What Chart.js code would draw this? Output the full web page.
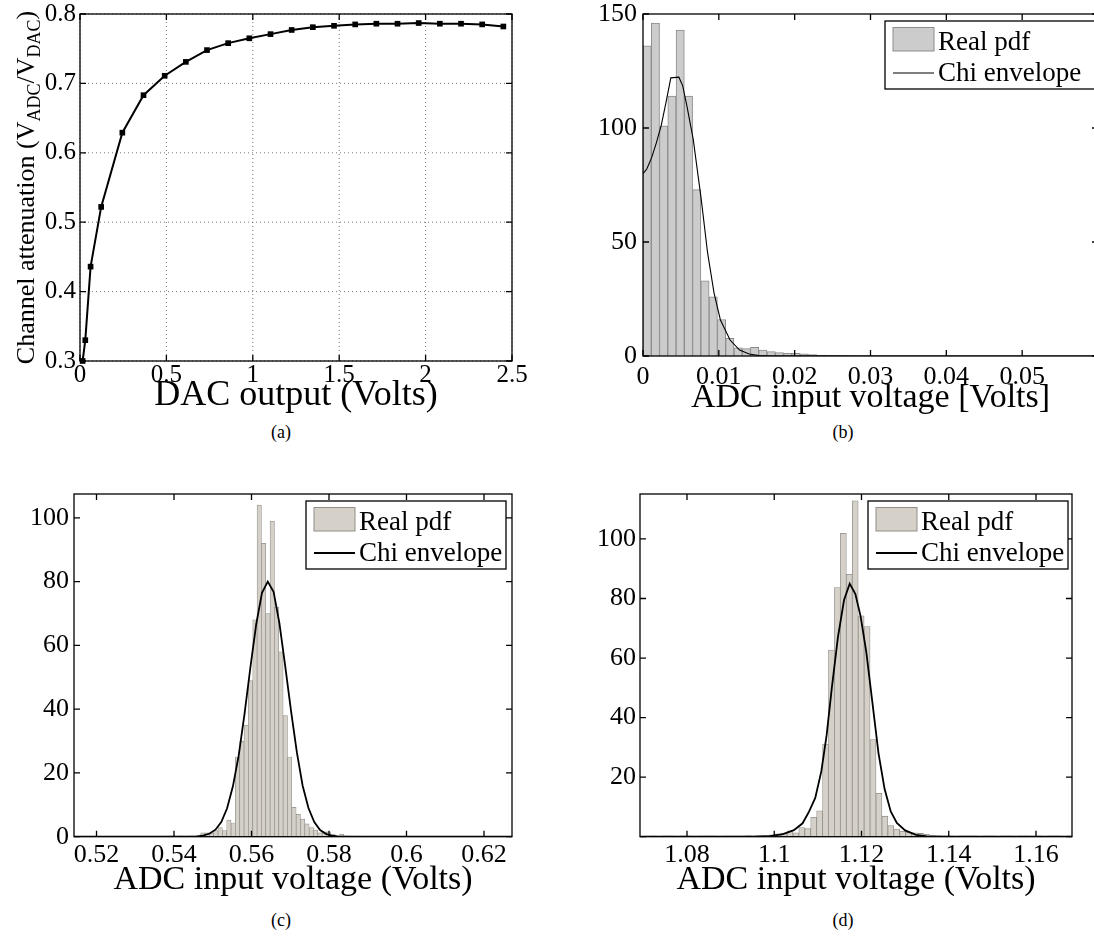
<!DOCTYPE html>
<html>
<head>
<meta charset="utf-8">
<script src="https://cdn.jsdelivr.net/npm/chart.js@4.4.1/dist/chart.umd.min.js"></script>
<style>
html,body{margin:0;padding:0;background:#fff;width:1094px;height:938px;overflow:hidden;position:relative}
canvas{position:absolute}
.cap{position:absolute;font-family:"Liberation Serif",serif;font-size:18px;transform:translate(-50%,-50%);white-space:nowrap}
</style>
</head>
<body>
<canvas id="chartA" width="545" height="414" style="left:0;top:0"></canvas>
<canvas id="chartB" width="560" height="415" style="left:547px;top:0"></canvas>
<canvas id="chartC" width="545" height="437" style="left:0;top:460px"></canvas>
<canvas id="chartD" width="547" height="437" style="left:547px;top:460px"></canvas>
<div class="cap" style="left:281px;top:432px">(a)</div>
<div class="cap" style="left:843px;top:432px">(b)</div>
<div class="cap" style="left:281px;top:920px">(c)</div>
<div class="cap" style="left:843px;top:920px">(d)</div>
<script>
// (a) channel attenuation against DAC output
const dacVolts = [0.0153, 0.0306, 0.0613, 0.1225, 0.245, 0.3675, 0.49, 0.6125, 0.735, 0.8575, 0.98, 1.1025,
  1.225, 1.3475, 1.47, 1.5925, 1.715, 1.8375, 1.96, 2.0825, 2.205, 2.3275, 2.45];
const attenuation = [0.300, 0.330, 0.436, 0.522, 0.629, 0.683, 0.711, 0.731, 0.748, 0.758, 0.765, 0.771,
  0.777, 0.781, 0.783, 0.785, 0.786, 0.786, 0.787, 0.786, 0.786, 0.785, 0.782];
const aTicksX = [0, 0.5, 1, 1.5, 2, 2.5];
const aTicksY = [0.3, 0.4, 0.5, 0.6, 0.7, 0.8];

// (b) histogram near 0 V
const bFirstBin = 0.000545, bBinWidth = 0.00109;
const bPdf = [136, 146, 101, 114, 143, 114, 73, 33, 26, 16, 7.8, 3.6, 3.2, 3.8, 2.6, 1.9, 1.5, 1.2, 1.2, 1.0,
  0.6, 0.4, 0.3, 0.2, 0.1];
const bChiX = [0, 0.0005, 0.00114, 0.00177, 0.0024, 0.00304, 0.00367, 0.00473, 0.00523, 0.00578, 0.00662,
  0.00768, 0.00852, 0.00937, 0.0102, 0.01148, 0.01274, 0.014, 0.01527, 0.0165, 0.06];
const bChiY = [80, 82, 87, 93.6, 101, 111.3, 122, 122.3, 118.6, 109.8, 95.1, 68.7, 45.2, 27.6, 15.9, 7, 2.6,
  0.9, 0.15, 0, 0];
const bTicksX = [0, 0.01, 0.02, 0.03, 0.04, 0.05];
const bTicksY = [0, 50, 100, 150];

// (c) histogram around 0.56 V
const cFirstBin = 0.53736, cBinWidth = 0.00112;
const cPdf = [0.2, 0.2, 0.3, 0.2, 0.3, 0.2, 0.3, 0.3, 0.5, 1.2, 1.2, 1.2, 1.9, 2.9, 1.9, 5.2, 4.3,
  25, 30, 35, 49, 68, 104, 92, 70, 99, 72, 58, 38, 25,
  9.2, 7, 5.5, 4, 2.9, 2.1, 1.2, 1.5, 1.5, 0.8, 0.3, 0.8, 0.3, 0.2, 0.2, 0.1];
const cChiX = [0.5142, 0.540, 0.5462, 0.5477, 0.5492, 0.5507, 0.5522, 0.5537, 0.5552, 0.5567, 0.5582,
  0.5597, 0.5612, 0.5627, 0.5642, 0.5657, 0.5672, 0.5687, 0.5702, 0.5717, 0.5732, 0.5747, 0.5762,
  0.5777, 0.5792, 0.5807, 0.5822, 0.585, 0.6273];
const cChiY = [0, 0, 0.1, 0.4, 1.0, 2.2, 4.6, 8.9, 15.8, 25.5, 38.5, 53, 66.5, 76.5, 80, 76.8, 67, 53.5,
  39.5, 26.5, 16, 9, 4.6, 2.1, 0.9, 0.35, 0.1, 0, 0];
const cTicksX = [0.52, 0.54, 0.56, 0.58, 0.6, 0.62];
const cTicksY = [0, 20, 40, 60, 80, 100];

// (d) histogram around 1.12 V
const dFirstBin = 1.07096, dBinWidth = 0.00136;
const dPdf = [0.2, 0.3, 0.2, 0.3, 0.3, 0.2, 0.3, 0.3, 0.2, 0.3, 0.3, 0.3, 0.2, 0.3, 0.3, 0.3, 0.3, 0.4, 0.3,
  0.4, 0.5, 0.6, 1.0, 1.2, 2.0, 1.3, 3.1, 2.7, 6.5, 8.7, 31.1, 62.7, 83.7, 101.9, 88.1, 112.8, 74.2, 70.6,
  32.6, 14.6, 6.9, 3.7, 2.6, 1.8, 1.5, 1.3, 1.1, 0.8, 0.5, 0.4,
  0.3, 0.3, 0.2, 0.3, 0.3, 0.3, 0.2, 0.3, 0.3, 0.2, 0.3, 0.3, 0.2, 0.3, 0.3, 0.2, 0.3, 0.2, 0.3, 0.3, 0.2, 0.3];
const dChiX = [1.0692, 1.095, 1.099, 1.102, 1.1045, 1.1065, 1.108, 1.1094, 1.1108, 1.112, 1.1132, 1.1146,
  1.116, 1.1173, 1.1186, 1.1198, 1.1211, 1.1225, 1.1239, 1.1253, 1.1267, 1.1281, 1.13, 1.1325, 1.135,
  1.138, 1.1683];
const dChiY = [0, 0, 0.2, 0.9, 2.2, 4.5, 8.5, 13, 22, 34, 50, 67, 79.5, 85, 81.5, 74, 62, 45, 28, 16, 8.5,
  4.6, 2.1, 0.6, 0.1, 0, 0];
const dTicksX = [1.08, 1.1, 1.12, 1.14, 1.16];
const dTicksY = [0, 20, 40, 60, 80, 100];

const FONT = '"Liberation Serif", "Times New Roman", serif';

function fmt(v) {
  return String(+v.toFixed(4));
}

// axes box with ticks pointing inwards on all four sides
const frame = {
  id: 'frame',
  afterDatasetsDraw(chart) {
    const {ctx, chartArea: a, scales: {x, y}} = chart;
    const len = 6;
    ctx.save();
    ctx.strokeStyle = '#000';
    ctx.lineWidth = 1.3;
    ctx.beginPath();
    x.ticks.forEach(t => {
      const p = x.getPixelForValue(t.value);
      ctx.moveTo(p, a.bottom); ctx.lineTo(p, a.bottom - len);
      ctx.moveTo(p, a.top); ctx.lineTo(p, a.top + len);
    });
    y.ticks.forEach(t => {
      const p = y.getPixelForValue(t.value);
      ctx.moveTo(a.left, p); ctx.lineTo(a.left + len, p);
      ctx.moveTo(a.right, p); ctx.lineTo(a.right - len, p);
    });
    ctx.stroke();
    ctx.strokeRect(a.left, a.top, a.right - a.left, a.bottom - a.top);
    ctx.restore();
  }
};

// dotted grid for (a)
const dotGrid = {
  id: 'dotGrid',
  beforeDatasetsDraw(chart) {
    const {ctx, chartArea: a, scales: {x, y}} = chart;
    ctx.save();
    ctx.strokeStyle = '#555';
    ctx.lineWidth = 0.8;
    ctx.setLineDash([1, 3]);
    ctx.beginPath();
    x.ticks.forEach(t => {
      const p = x.getPixelForValue(t.value);
      ctx.moveTo(p, a.top); ctx.lineTo(p, a.bottom);
    });
    y.ticks.forEach(t => {
      const p = y.getPixelForValue(t.value);
      ctx.moveTo(a.left, p); ctx.lineTo(a.right, p);
    });
    ctx.stroke();
    ctx.restore();
  }
};

// rotated y label of (a) with subscripts
const subLabel = {
  id: 'subLabel',
  afterDraw(chart) {
    const ctx = chart.ctx;
    const a = chart.chartArea;
    const parts = [['Channel attenuation (V', 0], ['ADC', 1], ['/V', 0], ['DAC', 1], [')', 0]];
    ctx.save();
    ctx.translate(34, (a.top + a.bottom) / 2);
    ctx.rotate(-Math.PI / 2);
    ctx.fillStyle = '#000';
    ctx.textBaseline = 'alphabetic';
    let total = 0;
    parts.forEach(([t, s]) => {
      ctx.font = (s ? '18px ' : '26px ') + FONT;
      total += ctx.measureText(t).width;
    });
    let px = -total / 2;
    parts.forEach(([t, s]) => {
      ctx.font = (s ? '18px ' : '26px ') + FONT;
      ctx.fillText(t, px, s ? 6 : 0);
      px += ctx.measureText(t).width;
    });
    ctx.restore();
  }
};

// boxed legend in the upper right of each histogram
const boxLegend = {
  id: 'boxLegend',
  afterDraw(chart, args, o) {
    const {ctx, chartArea: a} = chart;
    const [bars, env] = chart.data.datasets;
    const left = a.left + o.dx, top = a.top + 7, w = o.w, h = 68;
    ctx.save();
    ctx.fillStyle = '#fff';
    ctx.fillRect(left, top, w, h);
    ctx.strokeStyle = '#000';
    ctx.lineWidth = 1.3;
    ctx.strokeRect(left, top, w, h);
    ctx.fillStyle = bars.backgroundColor;
    ctx.fillRect(left + 8, top + 6.5, 41, 23.5);
    ctx.strokeStyle = bars.borderColor;
    ctx.lineWidth = 1;
    ctx.strokeRect(left + 8, top + 6.5, 41, 23.5);
    ctx.strokeStyle = '#000';
    ctx.lineWidth = env.borderWidth;
    ctx.beginPath();
    ctx.moveTo(left + 8, top + 52);
    ctx.lineTo(left + 49, top + 52);
    ctx.stroke();
    ctx.fillStyle = '#000';
    ctx.font = '27px ' + FONT;
    ctx.textBaseline = 'alphabetic';
    ctx.fillText(bars.label, left + 53, top + 28.5);
    ctx.fillText(env.label, left + 53, top + 60);
    ctx.restore();
  }
};

function xAxis(min, max, ticks, title, height, size, pad, titleSize) {
  return {
    type: 'linear', min: min, max: max, offset: false,
    grid: {display: false, drawTicks: false}, border: {display: false},
    afterBuildTicks: s => { s.ticks = ticks.map(v => ({value: v})); },
    afterFit: s => { s.height = height; s.paddingLeft = 0; s.paddingRight = 0; },
    ticks: {font: {family: FONT, size: size, lineHeight: 1}, color: '#000', padding: pad,
      maxRotation: 0, autoSkip: false, callback: v => fmt(v)},
    title: {display: true, text: title, color: '#000', padding: 0,
      font: {family: FONT, size: titleSize, lineHeight: 1}}
  };
}

function yAxis(min, max, ticks, width, size, pad, hideZero) {
  return {
    type: 'linear', min: min, max: max,
    grid: {display: false, drawTicks: false}, border: {display: false},
    afterBuildTicks: s => { s.ticks = ticks.map(v => ({value: v})); },
    afterFit: s => { s.width = width; s.paddingTop = 0; s.paddingBottom = 0; },
    ticks: {font: {family: FONT, size: size, lineHeight: 1}, color: '#000', padding: pad,
      autoSkip: false, callback: v => (hideZero && v === 0) ? '' : fmt(v)}
  };
}

function baseOptions(padTop, padRight, xs, ys) {
  return {
    responsive: false, animation: false, events: [],
    layout: {padding: {top: padTop, right: padRight, left: 0, bottom: 0}},
    plugins: {legend: {display: false}, tooltip: {enabled: false}},
    scales: {x: xs, y: ys}
  };
}

// canvas A: plot box 80..512 / 14..361, title centre at 396
new Chart(document.getElementById('chartA'), {
  type: 'line',
  data: {
    datasets: [{
      data: dacVolts.map((v, i) => ({x: v, y: attenuation[i]})),
      borderColor: '#000', borderWidth: 2, tension: 0, clip: false,
      pointStyle: 'rect', pointRadius: 4, pointBackgroundColor: '#000', pointBorderWidth: 0
    }]
  },
  options: baseOptions(14, 545 - 512,
    xAxis(0, 2.5, aTicksX, 'DAC output (Volts)', 414 - 361, 25, 1.5, 36),
    yAxis(0.3, 0.8, aTicksY, 80, 25, 4)),
  plugins: [dotGrid, frame, subLabel]
});

function histChart(id, cfg) {
  const opts = baseOptions(cfg.padTop, cfg.padRight,
    xAxis(cfg.xmin, cfg.xmax, cfg.ticksX, 'ADC input voltage ' + cfg.unit, cfg.xh, 26, cfg.xpad, 34),
    yAxis(0, cfg.ymax, cfg.ticksY, cfg.yw, 26, cfg.ypad, cfg.hideZero));
  opts.plugins.boxLegend = {dx: cfg.legendDx, w: cfg.legendW};
  new Chart(document.getElementById(id), {
    type: 'bar',
    data: {
      datasets: [{
        type: 'bar', label: 'Real pdf',
        data: cfg.pdf.map((v, i) => ({x: cfg.first + i * cfg.width, y: v})),
        backgroundColor: cfg.fill, borderColor: cfg.edge, borderWidth: cfg.edgeWidth,
        barPercentage: 1, categoryPercentage: 1, grouped: false, order: 2
      }, {
        type: 'line', label: 'Chi envelope',
        data: cfg.chiX.map((v, i) => ({x: v, y: cfg.chiY[i]})),
        borderColor: '#000', borderWidth: cfg.lineWidth, pointRadius: 0, tension: 0, order: 1
      }]
    },
    options: opts,
    plugins: [frame, boxLegend]
  });
}

// canvas B: left 547, plot box 643..1098 / 14..356
histChart('chartB', {
  pdf: bPdf, first: bFirstBin, width: bBinWidth, chiX: bChiX, chiY: bChiY,
  fill: 'rgb(204,204,204)', edge: 'rgb(140,140,140)', edgeWidth: 1, lineWidth: 1.1,
  xmin: 0, xmax: 0.06, ymax: 150, ticksX: bTicksX, ticksY: bTicksY, unit: '[Volts]',
  padTop: 14, padRight: 560 - 551, xh: 415 - 356, xpad: 8, yw: 96, ypad: 6, hideZero: false,
  legendDx: 242, legendW: 215
});

// canvas C: top 460, plot box 74..512 / 494..836.7
histChart('chartC', {
  pdf: cPdf, first: cFirstBin, width: cBinWidth, chiX: cChiX, chiY: cChiY,
  fill: 'rgb(213,209,201)', edge: 'rgb(145,142,138)', edgeWidth: 0.7, lineWidth: 1.8,
  xmin: 0.51419, xmax: 0.62723, ymax: 107.5, ticksX: cTicksX, ticksY: cTicksY, unit: '(Volts)',
  padTop: 34, padRight: 545 - 512, xh: 437 - 376.7, xpad: 5.3, yw: 74, ypad: 5, hideZero: false,
  legendDx: 232, legendW: 200
});

// canvas D: left 547, top 460, plot box 640..1072 / 494..836.7
histChart('chartD', {
  pdf: dPdf, first: dFirstBin, width: dBinWidth, chiX: dChiX, chiY: dChiY,
  fill: 'rgb(213,209,201)', edge: 'rgb(145,142,138)', edgeWidth: 0.8, lineWidth: 1.8,
  xmin: 1.06923, xmax: 1.16825, ymax: 115.1, ticksX: dTicksX, ticksY: dTicksY, unit: '(Volts)',
  padTop: 34, padRight: 547 - 525, xh: 437 - 376.7, xpad: 5.3, yw: 93, ypad: 4, hideZero: true,
  legendDx: 228, legendW: 200
});
</script>
</body>
</html>
